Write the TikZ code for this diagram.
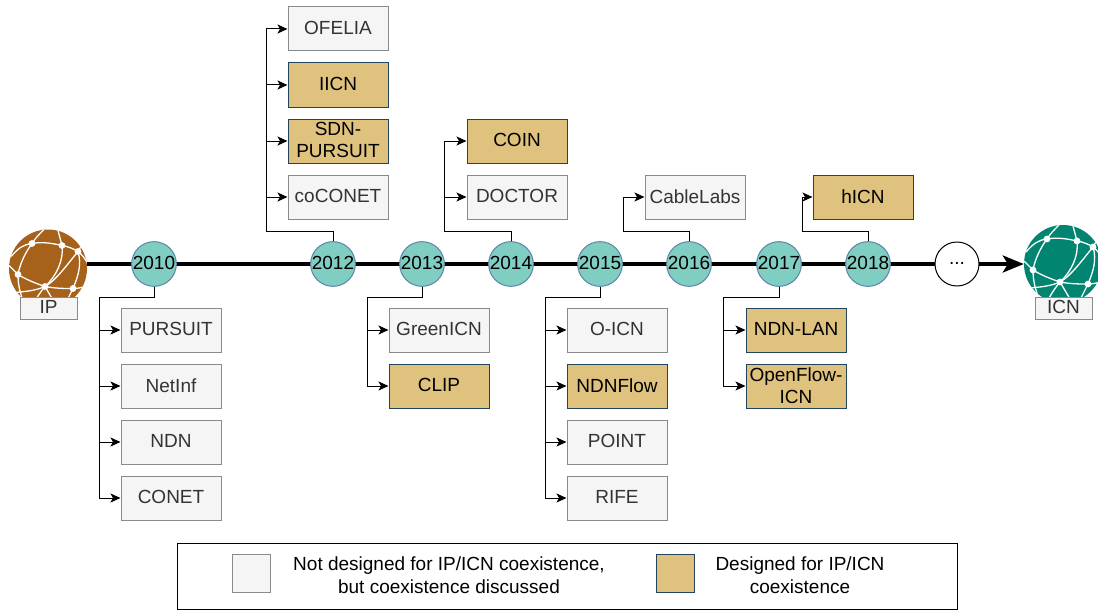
\documentclass[tikz,border=0pt]{standalone}
\usepackage{fontspec}
\setmainfont{Liberation Sans}
\usetikzlibrary{arrows.meta}
\definecolor{tan}{HTML}{DFC27D}
\definecolor{tanline}{HTML}{23445D}
\definecolor{teal}{HTML}{80CDC1}
\definecolor{yline}{HTML}{5C85A8}
\definecolor{ipc}{HTML}{A6611A}
\definecolor{icnc}{HTML}{018571}
\definecolor{gfill}{HTML}{F5F5F5}
\definecolor{gline}{HTML}{8A8A8A}
\definecolor{gtext}{HTML}{333333}
\tikzset{
  txt/.style={font=\fontsize{19}{22}\selectfont,align=center,inner sep=0pt,text depth=1.4pt},
  grey/.style={txt,draw=gline,line width=1pt,fill=gfill,text=gtext,minimum width=100pt,minimum height=44pt},
  des/.style={txt,draw=tanline,line width=1pt,fill=tan,text=black,minimum width=100pt,minimum height=44pt},
  year/.style={txt,circle,draw=yline,line width=1pt,fill=teal,minimum size=44pt},
  conn/.style={draw=black,line width=1pt,-{Stealth[length=10pt,width=9pt,inset=2.5pt]}},
  stem/.style={draw=black,line width=1pt},
  axis/.style={draw=black,line width=3.3pt},
  tag/.style={txt,draw=gline,line width=1pt,fill=gfill,text=gtext,minimum width=57pt,minimum height=22pt},
  swatch/.style={draw=gline,line width=1pt,minimum width=38pt,minimum height=38pt,inner sep=0pt},
  net/.style={draw=white,line width=1.3pt}
}
\newcommand{\globe}[4]{% name, x, y, colour
  \begin{scope}[shift={(#2,#3)}]
    \node[circle,fill=#4,minimum size=78pt,inner sep=0pt] (#1) at (0,0) {};
    \begin{scope}
      \clip (0,0) circle (39);
      \draw[net] (-37,-12) .. controls (-30,-20) and (-25,-24) .. (-16,-25) .. controls (-5,-27) and (5,-25) .. (14,-23) .. controls (20,-22) and (25,-20) .. (30,-17) .. controls (34,-14) and (37,-10) .. (39,-6);
      \draw[net] (-39,-3) -- (-30,6) .. controls (-22,11) and (-12,15) .. (-3,18) .. controls (8,20) and (16,20) .. (25,20) .. controls (30,20) and (35,19) .. (39,17);
      \draw[net] (-33,24) .. controls (-22,23) and (-12,22) .. (-3,18) .. controls (8,12) and (20,-5) .. (30,-17) -- (34,-24);
      \draw[net] (-4,-39) .. controls (-9,-34) and (-13,-30) .. (-16,-25) .. controls (-24,-14) and (-28,-4) .. (-30,6) .. controls (-30,16) and (-28,24) .. (-25,32);
      \draw[net] (10,-38) -- (14,-23) .. controls (16,-8) and (8,8) .. (-3,18) .. controls (-8,24) and (-12,30) .. (-16,38);
      \draw[net] (30,-17) .. controls (34,-4) and (30,8) .. (25,20) -- (18,34);
      \draw[net] (-3,18) -- (10,40);
      \fill[white] (-16,-25) circle (3.4) (14,-23) circle (3.4) (30,-17) circle (3.4) (-30,6) circle (3.4) (-3,18) circle (3.4) (25,20) circle (3.4);
    \end{scope}
  \end{scope}
}
\begin{document}
\begin{tikzpicture}[x=1pt,y=-1pt]
\useasboundingbox (0,0) rectangle (1098,610);
% globes
\globe{ipg}{48}{268.5}{ipc}
\begin{scope}
\clip (0,0) rectangle (1098,610);
\globe{icng}{1063}{264}{icnc}
\end{scope}
\coordinate (a0) at (87,264);
\draw[axis,-{Stealth[length=21pt,width=17pt,inset=5pt]}] (a0) -- (icng.west);
\node[year] (y2010) at (154,264) {2010};
\node[year] (y2012) at (333,264) {2012};
\node[year] (y2013) at (422,264) {2013};
\node[year] (y2014) at (511,264) {2014};
\node[year] (y2015) at (600,264) {2015};
\node[year] (y2016) at (689,264) {2016};
\node[year] (y2017) at (779,264) {2017};
\node[year] (y2018) at (868,264) {2018};
\node[txt,circle,draw=black,line width=1pt,fill=white,minimum size=44pt] (ymore) at (957,264) {...};
\node[tag] (iplabel) at (48.5,308) {IP};
\node[tag] (icnlabel) at (1063.5,308) {ICN};
% boxes
\node[grey] (pursuit) at (171,330) {PURSUIT};
\node[grey] (netinf) at (171,386) {NetInf};
\node[grey] (ndn) at (171,442) {NDN};
\node[grey] (conet) at (171,498) {CONET};
\node[grey] (ofelia) at (338,29) {OFELIA};
\node[des] (iicn) at (338,85) {IICN};
\node[des] (sdn) at (338,141) {SDN-\\PURSUIT};
\node[grey] (coconet) at (338,197) {coCONET};
\node[grey] (green) at (439,330) {GreenICN};
\node[des] (clip) at (439,386) {CLIP};
\node[des] (coin) at (517,141) {COIN};
\node[grey] (doctor) at (517,197) {DOCTOR};
\node[grey] (oicn) at (617,330) {O-ICN};
\node[des] (ndnflow) at (617,386) {NDNFlow};
\node[grey] (point) at (617,442) {POINT};
\node[grey] (rife) at (617,498) {RIFE};
\node[grey] (cable) at (695,197) {CableLabs};
\node[des] (ndnlan) at (796,330) {NDN-LAN};
\node[des] (ofi) at (796,386) {OpenFlow-\\ICN};
\node[des] (hicn) at (863,197) {hICN};
% connectors
\coordinate (b2010) at (99,297);
\coordinate (b2012) at (266,231);
\coordinate (b2013) at (367,297);
\coordinate (b2014) at (444,231);
\coordinate (b2015) at (545,297);
\coordinate (b2016) at (623,231);
\coordinate (b2017) at (723,297);
\coordinate (b2018) at (802,231);
\draw[stem] (y2010.south) |- (b2010);
\draw[stem] (y2012.north) |- (b2012);
\draw[stem] (y2013.south) |- (b2013);
\draw[stem] (y2014.north) |- (b2014);
\draw[stem] (y2015.south) |- (b2015);
\draw[stem] (y2016.north) |- (b2016);
\draw[stem] (y2017.south) |- (b2017);
\draw[stem] (y2018.north) |- (b2018);
\foreach \b/\t in {b2010/pursuit,b2010/netinf,b2010/ndn,b2010/conet,
  b2012/ofelia,b2012/iicn,b2012/sdn,b2012/coconet,
  b2013/green,b2013/clip,b2014/coin,b2014/doctor,
  b2015/oicn,b2015/ndnflow,b2015/point,b2015/rife,
  b2016/cable,b2017/ndnlan,b2017/ofi,b2018/hicn}
  \draw[conn] (\b) |- (\t.west);
% legend
\node[draw=black,line width=1pt,fill=white,minimum width=780pt,minimum height=66pt,inner sep=0pt] (legend) at (567,576) {};
\node[swatch,fill=gfill] (sw1) at (251,573) {};
\node[swatch,fill=tan,draw=tanline] (sw2) at (675,573) {};
\node[font=\fontsize{19}{23}\selectfont,align=center,inner sep=0pt] (lt1) at (449,575) {Not designed for IP/ICN coexistence,\\but coexistence discussed};
\node[font=\fontsize{19}{23}\selectfont,align=center,inner sep=0pt] (lt2) at (800,575) {Designed for IP/ICN\\coexistence};
\end{tikzpicture}
\end{document}
